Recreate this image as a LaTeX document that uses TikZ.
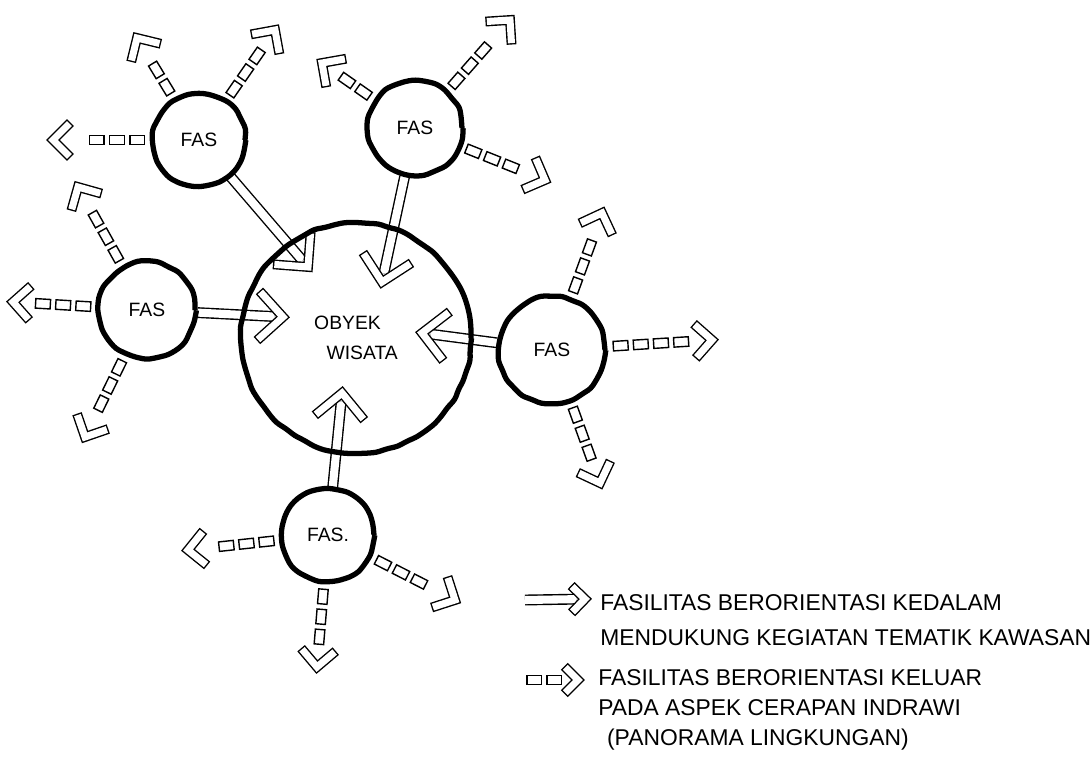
\documentclass[tikz,border=0pt]{standalone}
\usepackage{fontspec}
\setmainfont{Liberation Sans}
\usetikzlibrary{calc,backgrounds}
\usetikzlibrary{decorations.markings,decorations.pathmorphing}

\tikzset{
  sketch/.style={decorate,decoration={random steps,segment length=6pt,amplitude=0.6pt},rounded corners=2pt},
  fas/.style={circle,draw,line width=3pt,inner sep=0pt,minimum size=#1,sketch,font=\fontsize{11}{13}\selectfont},
  inshaft/.style={double,double distance=4.6pt,line width=0.8pt,shorten >=5pt},
  band/.style={line width=5.6pt,line join=miter,postaction={draw,white,line join=miter,line width=4pt,shorten <=0.8pt,shorten >=0.8pt}},
  outshaft/.style={postaction={decorate,decoration={markings,
    mark=between positions 7.5pt and -#1 step 11.5pt with {\draw[line width=0.8pt,fill=white] (-4.2pt,-2.7pt) rectangle (4.2pt,2.7pt);}}}},
  outshaft/.default=17pt,
  ket/.style={align=left,inner sep=0pt,anchor=west}
}

% kepala panah berongga: ujung, arah asal, panjang lengan
\newcommand{\kepala}[3]{\draw[band] ($(#1)!#3!45:(#2)$) -- (#1) -- ($(#1)!#3!-45:(#2)$);}

\begin{document}
\begin{tikzpicture}[x=0.02cm,y=-0.02cm]
  \useasboundingbox (0,0) rectangle (1092,760);
  \pgfmathsetseed{11}

  % obyek wisata dan fasilitas
  \node [circle,draw,line width=3pt,inner sep=0pt,minimum size=4.6cm,sketch,align=left,
         font=\fontsize{11}{17}\selectfont] (ow) at (356,338) {OBYEK\\\hspace*{7pt}WISATA};
  \node [fas=1.84cm] (f1) at (199,140) {FAS};
  \node [fas=1.88cm] (f2) at (415,128) {FAS};
  \node [fas=1.92cm] (f3) at (147,310) {FAS};
  \node [fas=2.12cm] (f4) at (552,350) {FAS};
  \node [fas=1.84cm] (f5) at (328,535) {FAS.};

  % ujung panah ke dalam
  \coordinate (i1) at (308,267);
  \coordinate (i2) at (382,282);
  \coordinate (i3) at (283,317);
  \coordinate (i4) at (422,333);
  \coordinate (i5) at (342,393);

  % ujung panah ke luar
  \coordinate (o1a) at (137,38);
  \coordinate (o1b) at (275,30);
  \coordinate (o1c) at (53,140);
  \coordinate (o2a) at (322,63);
  \coordinate (o2b) at (510,20);
  \coordinate (o2c) at (545,180);
  \coordinate (o3a) at (78,187);
  \coordinate (o3b) at (13,302);
  \coordinate (o3c) at (85,437);
  \coordinate (o4a) at (602,213);
  \coordinate (o4b) at (712,340);
  \coordinate (o4c) at (600,483);
  \coordinate (o5a) at (188,550);
  \coordinate (o5b) at (455,600);
  \coordinate (o5c) at (317,667);

  \begin{scope}[on background layer]
    \foreach \fs/\tp in {f1/i1,f2/i2,f3/i3,f4/i4,f5/i5}{
      \draw[inshaft] (\fs) -- (\tp);
      \kepala{\tp}{\fs}{20pt}
    }
    \foreach \fs/\tp in {f1/o1a,f1/o1b,f1/o1c,f2/o2a,f2/o2b,f2/o2c,f3/o3a,f3/o3b,f3/o3c,
                         f4/o4a,f4/o4b,f4/o4c,f5/o5a,f5/o5b,f5/o5c}{
      \path[outshaft] (\fs) -- (\tp);
      \kepala{\tp}{\fs}{14pt}
    }
  \end{scope}

  % keterangan
  \coordinate (ka) at (525,600);
  \coordinate (kb) at (585,599);
  \draw[inshaft] (ka) -- (kb);
  \kepala{kb}{ka}{11pt}
  \coordinate (kc) at (521,680);
  \coordinate (kd) at (578,680);
  \path[outshaft=9pt] (kc) -- (kd);
  \kepala{kd}{kc}{11pt}

  \node [ket,font=\fontsize{13}{20}\selectfont] (ket1) at (600,620) {
    FASILITAS BERORIENTASI KEDALAM\\
    MENDUKUNG KEGIATAN TEMATIK KAWASAN
  };
  \node [ket,font=\fontsize{13}{17}\selectfont] (ket2) at (598,710) {
    FASILITAS BERORIENTASI KELUAR\\
    PADA ASPEK CERAPAN INDRAWI\\
    \hspace*{5pt}(PANORAMA LINGKUNGAN)
  };
\end{tikzpicture}
\end{document}
